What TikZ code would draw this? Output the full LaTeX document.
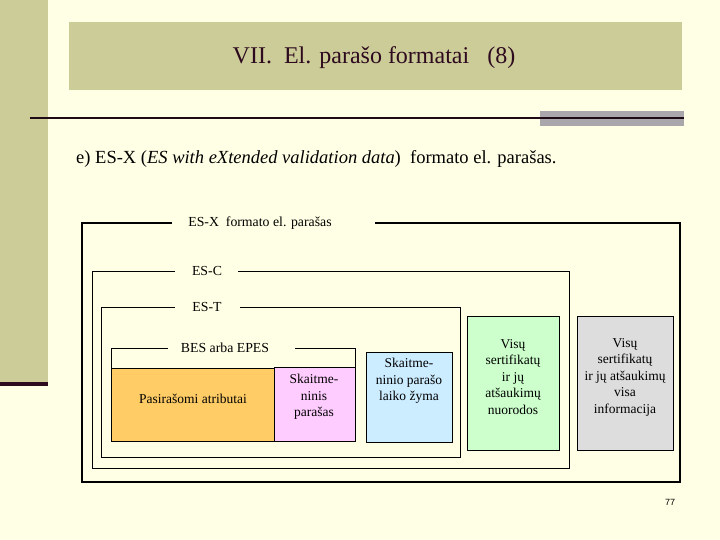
\documentclass[tikz,border=0pt]{standalone}
\usepackage{fontspec}
\setmainfont{Liberation Serif}
\newfontfamily\pgnumfont{Liberation Sans}
\usepackage{tikz}
\usetikzlibrary{positioning}
\usepackage{xcolor}
\definecolor{slidebg}{HTML}{FFFFE5}
\definecolor{bandtan}{HTML}{CCCC99}
\definecolor{titleink}{HTML}{2E0A1E}
\definecolor{barline}{HTML}{1E0A14}
\definecolor{bargray}{HTML}{A9A7AC}
\definecolor{attrorange}{HTML}{FFCC66}
\definecolor{sigpink}{HTML}{FFCCFF}
\definecolor{tsablue}{HTML}{CCECFF}
\definecolor{refgreen}{HTML}{CCFFCC}
\definecolor{valgray}{HTML}{DDDDDD}

\begin{document}
\begin{tikzpicture}[x=1pt,y=-1pt,
      frm/.style={draw=black,line width=1pt},
      frmx/.style={draw=black,line width=2.4pt},
      lbl/.style={inner sep=0pt,font=\fontsize{13.8}{16}\selectfont},
      cell/.style={draw=black,line width=0.8pt},
      celltxt/.style={align=center,inner sep=0pt,
                      font=\fontsize{13.5}{16.5}\selectfont}]

    % ================= slide background =================
    \fill[slidebg] (0,0) rectangle (720,540);
    \useasboundingbox (0,0) rectangle (720,540);
    \fill[bandtan] (0,0) rectangle (48,382);
    \fill[titleink] (0,382) rectangle (48,386);
    \fill[bandtan] (69,22) rectangle (682,90);
    \node[font=\fontsize{24}{28}\selectfont,text=titleink] (title) at (374,58)
      {VII.\ \ El. parašo formatai\ \ \ (8)};
    \fill[bargray] (540,111) rectangle (684,126);
    \draw[barline,line width=2.4pt] (30,118) -- (684,118);

    \node[anchor=base west,inner sep=0pt,font=\fontsize{18.5}{21}\selectfont]
      (subtitle) at (76,164)
      {e) ES-X (\textit{ES with eXtended validation data})\ \ formato el. parašas.};

    % ================= nested frames =================
    \node[lbl] (esx) at (260,223) {ES-X\ \ formato el. parašas};
    \draw[frmx] (172,223) -| (82,482) -| (680,223) -- (375,223);

    \node[lbl] (esc) at (207,271) {ES-C};
    \draw[frm] (175,271) -| (92,468) -| (569,271) -- (238,271);

    \node[lbl] (est) at (207,307) {ES-T};
    \draw[frm] (175,307) -| (101,457) -| (460,307) -- (240,307);

    \node[lbl] (bes) at (225,348) {BES arba EPES};
    \draw[frm] (168,348) -| (111,368);
    \draw[frm] (295,348) -| (355,367);

    % ================= content boxes =================
    \filldraw[cell,fill=attrorange] (111,368) rectangle (274,441);
    \node[celltxt] (attr) at (193,399) {Pasirašomi atributai};

    \filldraw[cell,fill=sigpink] (274,367) rectangle (355,441);
    \node[celltxt] (sig) at (314,397) {Skaitme-\\ninis\\parašas};

    \filldraw[cell,fill=tsablue] (366,352) rectangle (452,442);
    \node[celltxt] (tsa) at (409,381) {Skaitme-\\ninio parašo\\laiko žyma};

    \filldraw[cell,fill=refgreen] (467,316) rectangle (559,450);
    \node[celltxt] (refs) at (513,377)
      {Visų\\sertifikatų\\ir jų\\atšaukimų\\nuorodos};

    \filldraw[cell,fill=valgray] (577,316) rectangle (673,450);
    \node[celltxt] (vals) at (625,377)
      {Visų\\sertifikatų\\ir jų atšaukimų\\visa\\informacija};

    % page number
    \node[font=\pgnumfont\fontsize{9}{10}\selectfont] (pgno) at (670,502) {77};
  \end{tikzpicture}
\end{document}
